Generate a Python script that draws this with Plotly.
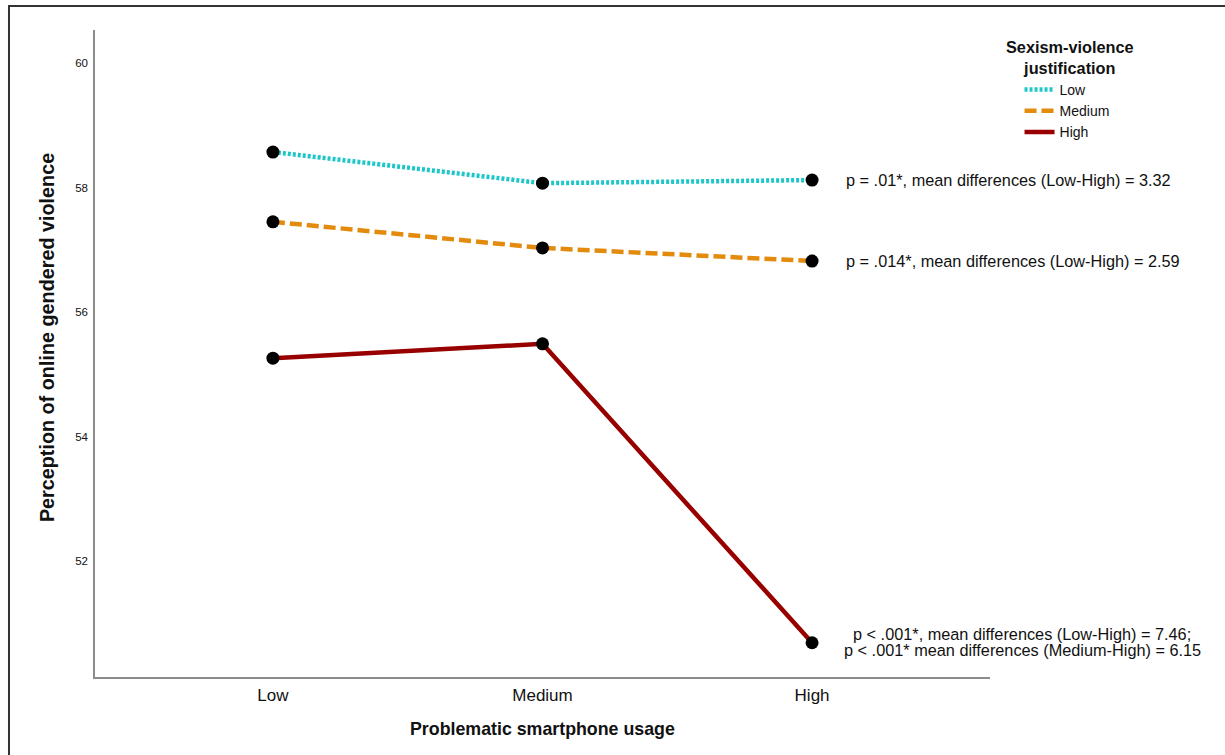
import plotly.graph_objects as go

categories = ["Low", "Medium", "High"]
series_names = ["Low", "Medium", "High"]
low_values = [58.57, 58.07, 58.12]
medium_values = [57.45, 57.03, 56.82]
high_values = [55.26, 55.49, 50.69]
y_ticks = [52, 54, 56, 58, 60]
annotation_texts = [
    ["p = .01*, mean differences (Low-High) = 3.32"],
    ["p = .014*, mean differences (Low-High) = 2.59"],
    ["p < .001*, mean differences (Low-High) = 7.46;",
     "p < .001* mean differences (Medium-High) = 6.15"],
]

FONT = "Arial, Liberation Sans, sans-serif"
colors = ["#1dc6c8", "#e38b0c", "#980000"]
dashes = ["3px,2px", "12px,5px", "solid"]
all_values = [low_values, medium_values, high_values]

fig = go.Figure()
for name, vals, col, dsh in zip(series_names, all_values, colors, dashes):
    fig.add_trace(go.Scatter(
        x=categories, y=vals, mode="lines", name=name,
        line=dict(color=col, width=4.5, dash=dsh),
    ))
for name, vals in zip(series_names, all_values):
    fig.add_trace(go.Scatter(
        x=categories, y=vals, mode="markers", showlegend=False,
        marker=dict(color="black", size=13), hoverinfo="skip",
    ))

# p-value annotations
for i, (vals, lines) in enumerate(zip(all_values, annotation_texts)):
    if len(lines) == 1:
        fig.add_annotation(x=categories[2], y=vals[2], xref="x", yref="y",
                           text=lines[0], showarrow=False, xanchor="left", xshift=32,
                           font=dict(family=FONT, size=16.3, color="#111"))
    else:
        for j, txt in enumerate(lines):
            fig.add_annotation(x=categories[2], y=vals[2], xref="x", yref="y",
                               text=txt, showarrow=False, xanchor="center", xshift=210,
                               yshift=9 - 16 * j,
                               font=dict(family=FONT, size=16.3, color="#111"))

# axis titles
fig.add_annotation(x=0.5, y=-0.081, xref="paper", yref="paper",
                   text="<b>Problematic smartphone usage</b>", showarrow=False,
                   yanchor="middle", font=dict(family=FONT, size=17.8, color="#111"))
fig.add_annotation(x=-0.0535, y=(677 - 338) / 647, xref="paper", yref="paper",
                   text="<b>Perception of online gendered violence</b>", showarrow=False,
                   textangle=-90, xanchor="center", yanchor="middle",
                   font=dict(family=FONT, size=19.8, color="#111"))

# legend title (centred over the legend items)
fig.add_annotation(x=(1070 - 95) / 895, y=(677 - 58) / 647, xref="paper", yref="paper",
                   text="<b>Sexism-violence<br>justification</b>", showarrow=False,
                   xanchor="center", yanchor="middle", align="center",
                   font=dict(family=FONT, size=16.3, color="#111"))

# outer frame
fig.add_shape(type="rect", xref="paper", yref="paper",
              x0=-0.0961, x1=1.4, y0=-0.3, y1=1.0371,
              line=dict(color="#333", width=2), fillcolor="rgba(0,0,0,0)")

fig.update_layout(
    width=1225, height=755,
    margin=dict(l=95, r=235, t=30, b=78),
    paper_bgcolor="white", plot_bgcolor="white",
    font=dict(family=FONT, color="#111"),
    showlegend=True,
    legend=dict(
        x=1.033, y=0.932, xanchor="left", yanchor="top",
        font=dict(family=FONT, size=14, color="#111"),
        bgcolor="rgba(0,0,0,0)", tracegroupgap=0,
    ),
    xaxis=dict(
        type="category", categoryorder="array", categoryarray=categories,
        range=[-0.66, 2.66], showgrid=False, zeroline=False,
        showline=True, linecolor="#8c8c8c", linewidth=1.5,
        ticks="", ticklabelstandoff=2,
        tickfont=dict(family=FONT, size=17, color="#111"),
    ),
    yaxis=dict(
        range=[50.14, 60.53], tickvals=y_ticks, showgrid=False, zeroline=False,
        showline=True, linecolor="#8c8c8c", linewidth=1.5,
        ticks="", ticklabelstandoff=3,
        tickfont=dict(family=FONT, size=11.5, color="#111"),
    ),
)

fig.write_html("out.html", config={"displayModeBar": False},
               post_script="document.body.style.margin='0';")
